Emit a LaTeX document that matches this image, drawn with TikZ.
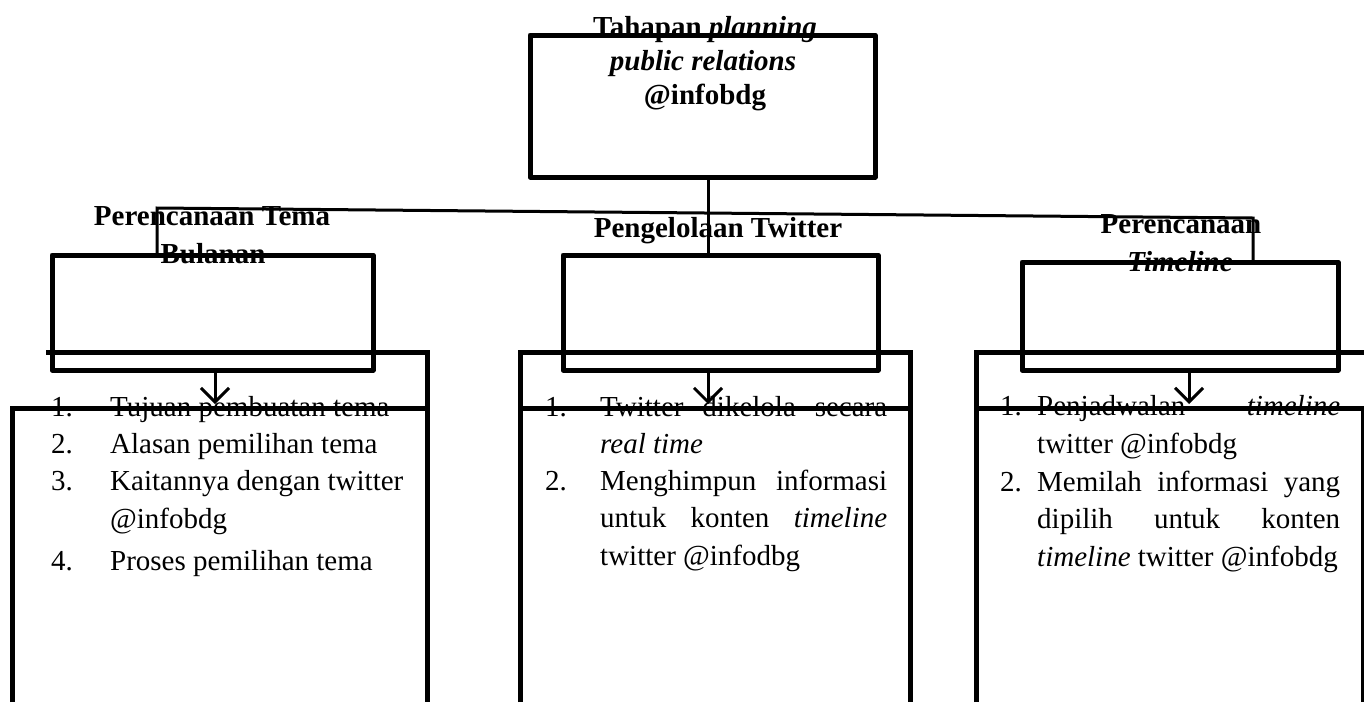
\documentclass[tikz,border=0pt]{standalone}
\usepackage{fontspec}
\setmainfont{Liberation Serif}
\usetikzlibrary{arrows.meta}
\begin{document}
\begin{tikzpicture}[x=1pt,y=-1pt,
  box/.style={draw, line width=5pt, inner sep=0pt, outer sep=0pt, anchor=north west, line join=round},
  frame/.style={line width=5pt},
  thinframe/.style={line width=3pt},
  conn/.style={line width=3pt},
  arr/.style={line width=3pt, -{Straight Barb[length=14pt,width=28pt,line width=3pt]}},
  txt/.style={inner sep=0pt, anchor=base west, font=\fontsize{29}{37}\selectfont},
  ttl/.style={inner sep=0pt, anchor=base, font=\fontsize{29}{37}\selectfont\bfseries}]
\useasboundingbox (0,0) rectangle (1364,702);

% titles
\node[ttl] (t1) at (705,36) {Tahapan \textit{planning}};
\node[ttl] (t2) at (703,70) {\textit{public relations}};
\node[ttl] (t3) at (705,104) {@infobdg};
\node[ttl] (lt1) at (212,225) {Perencanaan Tema};
\node[ttl] (lt2) at (213,263) {Bulanan};
\node[ttl] (mt1) at (718,237) {Pengelolaan Twitter};
\node[ttl] (rt1) at (1181,233) {Perencanaan};
\node[ttl] (rt2) at (1180,271) {\textit{Timeline}};

% boxes
\node[box, minimum width=345pt, minimum height=142pt] (top) at (530,35) {};
\node[box, minimum width=321pt, minimum height=115pt] (lbox) at (52,255) {};
\node[box, minimum width=315pt, minimum height=115pt] (mbox) at (563,255) {};
\node[box, minimum width=316pt, minimum height=108pt] (rbox) at (1022,262) {};

% list texts
\node[txt] (l1) at (51,416) {\makebox[59pt][l]{1.}Tujuan pembuatan tema};
\node[txt] (l2) at (51,453) {\makebox[59pt][l]{2.}Alasan pemilihan tema};
\node[txt] (l3) at (51,490) {\makebox[59pt][l]{3.}Kaitannya dengan twitter};
\node[txt] (l4) at (110,528) {@infobdg};
\node[txt] (l5) at (51,570) {\makebox[59pt][l]{4.}Proses pemilihan tema};

\node[txt] (m1) at (545,416) {\makebox[55pt][l]{1.}\makebox[287pt][s]{Twitter dikelola secara}};
\node[txt] (m2) at (600,453) {\textit{real time}};
\node[txt] (m3) at (545,490) {\makebox[55pt][l]{2.}\makebox[287pt][s]{Menghimpun informasi}};
\node[txt] (m4) at (600,527) {\makebox[287pt][s]{untuk konten \textit{timeline}}};
\node[txt] (m5) at (600,565) {twitter @infodbg};

\node[txt] (r1) at (1000,415) {\makebox[37pt][l]{1.}\makebox[303pt][s]{Penjadwalan \textit{timeline}}};
\node[txt] (r2) at (1037,453) {twitter @infobdg};
\node[txt] (r3) at (1000,491) {\makebox[37pt][l]{2.}\makebox[303pt][s]{Memilah informasi yang}};
\node[txt] (r4) at (1037,528) {\makebox[303pt][s]{dipilih untuk konten}};
\node[txt] (r5) at (1037,566) {\textit{timeline} twitter @infobdg};

% big frames
\draw[frame] (46,352) -- (427,352) -- (427,702);
\draw[frame] (12,702) -- (12,408) -- (429.5,408);
\draw[frame] (520,702) -- (520,352) -- (910,352) -- (910,702);
\draw[frame] (520,408) -- (910,408);
\draw[frame] (976,702) -- (976,352) -- (1364,352);
\draw[frame] (976,408) -- (1364,408);
\draw[thinframe] (1362,408) -- (1362,702);

% connectors
\coordinate (cx) at (708,0);
\coordinate (j1) at (157,208);
\coordinate (j2) at (1253,218);
\coordinate (ax1) at (215,404);
\coordinate (ax2) at (708,404);
\coordinate (ax3) at (1189,404);
\draw[conn] (top.south -| cx) -- (mbox.north -| cx);
\draw[conn] (lbox.north -| j1) -- (j1) -- (j2) -- (rbox.north -| j2);
\draw[arr] (lbox.south -| ax1) -- (ax1);
\draw[arr] (mbox.south -| ax2) -- (ax2);
\draw[arr] (rbox.south -| ax3) -- (ax3);
\end{tikzpicture}
\end{document}
